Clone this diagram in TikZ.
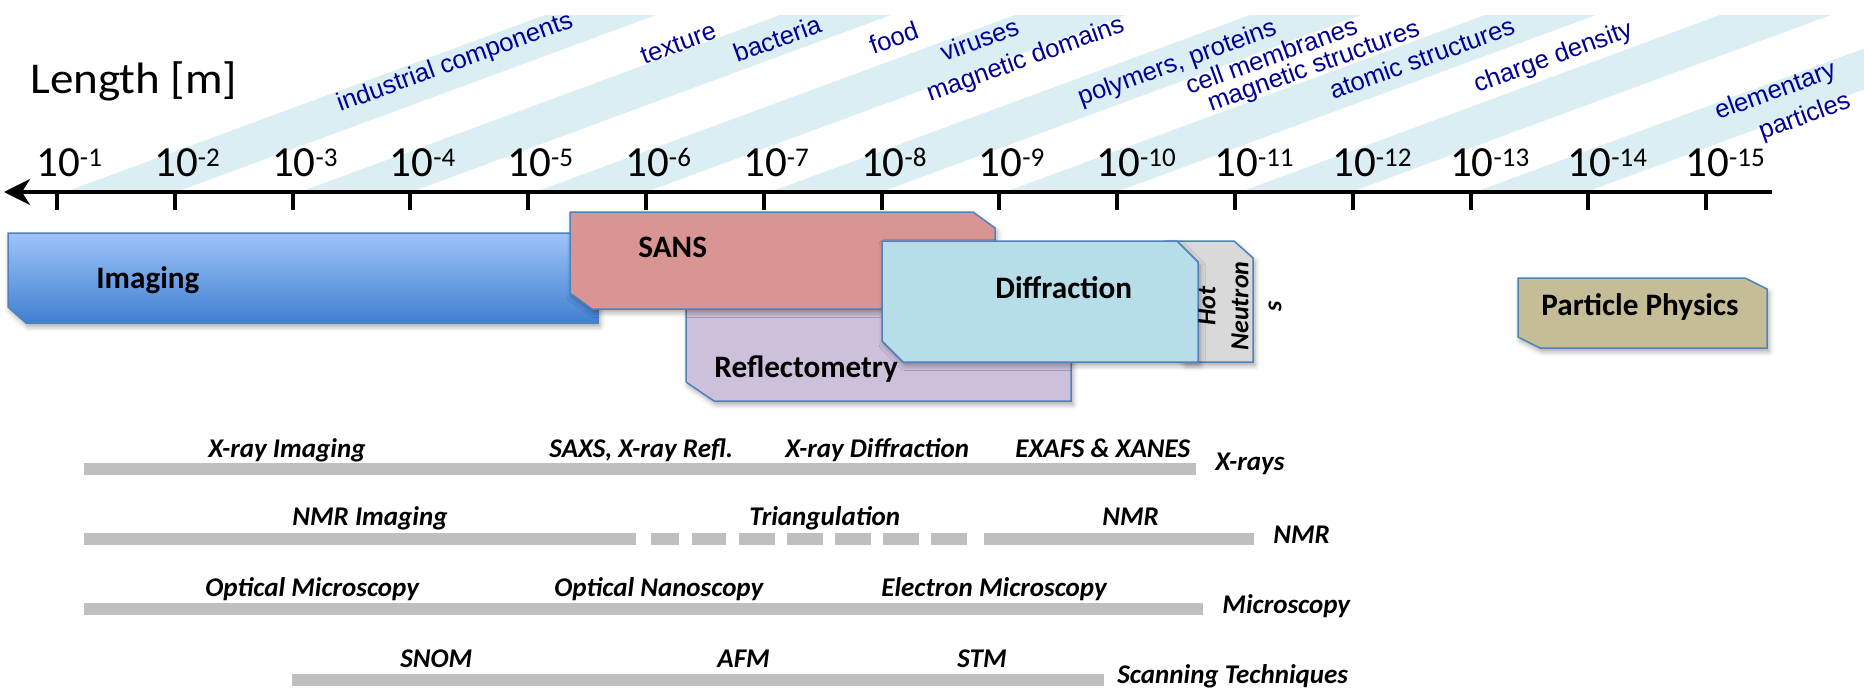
\documentclass[tikz,border=0pt]{standalone}
\usepackage{fontspec}
\setmainfont{Carlito}
\newfontfamily\arialfont{Liberation Sans}
\usetikzlibrary{arrows.meta,shadows.blur}

\definecolor{stripe}{HTML}{DAEEF3}
\definecolor{scaleblue}{RGB}{0,0,150}
\definecolor{edgeblue}{RGB}{79,129,189}
\definecolor{imgtop}{RGB}{158,196,250}
\definecolor{imgmid}{RGB}{135,178,238}
\definecolor{imgbot}{RGB}{64,128,208}
\definecolor{sansfill}{HTML}{D99594}
\definecolor{reflfill}{HTML}{CCC0DA}
\definecolor{difffill}{HTML}{B7DDE8}
\definecolor{hotfill}{HTML}{D9D9D9}
\definecolor{ppfill}{HTML}{C4BD97}
\definecolor{barfill}{HTML}{BFBFBF}

\tikzset{
  band/.style={fill=stripe, draw=none},
  scalelabel/.style={text=scaleblue, font=\arialfont\fontsize{12.8}{14}\selectfont,
    anchor=base west, inner sep=0pt, rotate=20},
  ticklabel/.style={font=\fontsize{21.5}{23}\selectfont, anchor=base west, inner sep=0pt},
  tickmark/.style={line width=2pt},
  boxedge/.style={draw=edgeblue, line width=0.75pt,
    blur shadow={shadow xshift=1pt, shadow yshift=-1.8pt, shadow blur radius=2.5pt, shadow opacity=35}},
  boxtext/.style={font=\bfseries\fontsize{15.6}{18}\selectfont, anchor=base west, inner sep=0pt},
  techbar/.style={fill=barfill, draw=none},
  techtext/.style={font=\bfseries\itshape\fontsize{13.5}{16}\selectfont, anchor=base west, inner sep=0pt},
}

% rectangle with its top-right and bottom-left corners cut off
% #1 style, #2 left, #3 top, #4 right, #5 bottom, #6 cut width, #7 cut height
\newcommand{\snipbox}[7]{%
  \path[#1] (#2,#3) -- ({#4-#6},#3) -- (#4,{#3+#7}) -- (#4,#5)
    -- ({#2+#6},#5) -- (#2,{#5-#7}) -- cycle;}

\newcommand{\tenpow}[1]{10\raisebox{4.6pt}{\fontsize{13.5}{14}\selectfont -#1}}

\begin{document}
\begin{tikzpicture}[x=0.5pt, y=-0.5pt]
\useasboundingbox (0,0) rectangle (1864,691);

% slanted background bands of the length scale
\begin{scope}
  \clip (0,0) rectangle (1864,691);
  \foreach \k in {0,...,6} {
    \pgfmathsetmacro\bx{65+235*\k}
    \fill[band] (\bx,192) -- ({\bx+111},192) -- ({\bx+111+480},15) -- ({\bx+480},15) -- cycle;
  }
\end{scope}

% objects on the scale
\node[scalelabel] (ind)  at (340,112)  {industrial components};
\node[scalelabel] (tex)  at (644,65)   {texture};
\node[scalelabel] (bac)  at (737,63)   {bacteria};
\node[scalelabel] (food) at (873,55)   {food};
\node[scalelabel] (vir)  at (944,62)   {viruses};
\node[scalelabel] (magd) at (930,102)  {magnetic domains};
\node[scalelabel] (poly) at (1081,106) {polymers, proteins};
\node[scalelabel] (cell) at (1189,95)  {cell membranes};
\node[scalelabel] (mags) at (1211,112) {magnetic structures};
\node[scalelabel] (atom) at (1333,100) {atomic structures};
\node[scalelabel] (chg)  at (1477,93)  {charge density};
\node[scalelabel] (elem) at (1718,120) {elementary};
\node[scalelabel] (part) at (1762,140) {particles};

\node[anchor=base west, inner sep=0pt, font=\fontsize{22}{24}\selectfont]
  (length) at (30,93) {\scalebox{1.07}[1]{Length [m]}};

% axis with ticks
\coordinate (axL) at (4,192);
\coordinate (axR) at (1772,192);
\draw[line width=2pt, {Stealth[length=13pt,width=13pt,inset=4pt]}-] (axL) -- (axR);
\foreach \i in {1,...,15} {
  \pgfmathsetmacro\tx{57+117.8*(\i-1)}
  \draw[tickmark] (\tx,192) -- (\tx,210);
  \node[ticklabel] (tl\i) at ({\tx-21},176) {\tenpow{\i}};
}

% neutron techniques
\snipbox{boxedge, top color=imgtop, middle color=imgmid, bottom color=imgbot}{8}{233}{598}{323}{18}{16}
\snipbox{boxedge, fill=reflfill}{686}{260}{1071}{401}{28}{19}
\snipbox{boxedge, fill=sansfill}{570}{212}{995}{309}{22}{16}
\snipbox{boxedge, fill=hotfill}{1165}{241}{1253}{362}{19}{17}
\snipbox{boxedge, fill=difffill}{882}{241}{1198}{362}{21}{21}
\snipbox{boxedge, fill=ppfill}{1518}{278}{1767}{348}{22}{11}

\node[boxtext] (imaging) at (96,288)   {Imaging};
\node[boxtext] (sans)    at (638,257)  {SANS};
\node[boxtext] (refl)    at (714,377)  {Reflectometry};
\node[boxtext] (diff)    at (995,298)  {Diffraction};
\node[boxtext] (pp)      at (1541,315) {Particle Physics};
\node[font=\bfseries\itshape\fontsize{13}{16.5}\selectfont, align=center, rotate=90, inner sep=0pt]
  (hot) at (1240,306) {Hot\\Neutron\\s};

% other techniques
\fill[techbar] (84,463) rectangle (1196,475);
\fill[techbar] (84,533) rectangle (636,545);
\foreach \a/\b in {651/679, 692/726, 739/775, 787/823, 835/871, 883/919, 931/967}
  \fill[techbar] (\a,533) rectangle (\b,545);
\fill[techbar] (984,533) rectangle (1254,545);
\fill[techbar] (84,603) rectangle (1203,615);
\fill[techbar] (292,674) rectangle (1104,686);

\node[techtext] (xim)  at (208,457)  {X-ray Imaging};
\node[techtext] (saxs) at (549,457)  {SAXS, X-ray Refl.};
\node[techtext] (xdif) at (785,457)  {X-ray Diffraction};
\node[techtext] (exa)  at (1015,457) {EXAFS \& XANES};
\node[techtext] (xr)   at (1215,470) {X-rays};
\node[techtext] (nmri) at (292,525)  {NMR Imaging};
\node[techtext] (tri)  at (749,525)  {Triangulation};
\node[techtext] (nmrb) at (1102,525) {NMR};
\node[techtext] (nmr)  at (1273,543) {NMR};
\node[techtext] (opt)  at (205,596)  {Optical Microscopy};
\node[techtext] (nano) at (554,596)  {Optical Nanoscopy};
\node[techtext] (elec) at (881,596)  {Electron Microscopy};
\node[techtext] (mic)  at (1222,613) {Microscopy};
\node[techtext] (snom) at (400,667)  {SNOM};
\node[techtext] (afm)  at (717,667)  {AFM};
\node[techtext] (stm)  at (957,667)  {STM};
\node[techtext] (scan) at (1117,683) {Scanning Techniques};
\end{tikzpicture}
\end{document}
